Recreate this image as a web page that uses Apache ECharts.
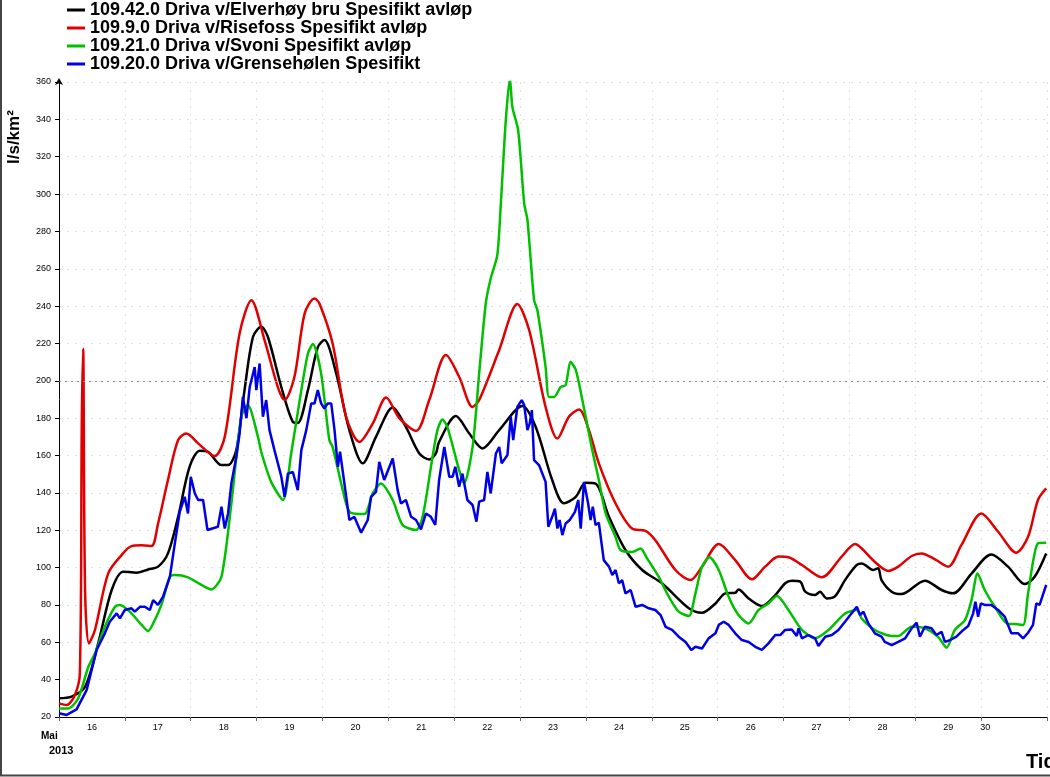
<!DOCTYPE html>
<html>
<head>
<meta charset="utf-8">
<script src="https://cdn.jsdelivr.net/npm/echarts@6/dist/echarts.min.js"></script>
<style>
html,body{margin:0;padding:0;background:#fff;}
#chart{width:1050px;height:777px;}
</style>
</head>
<body>
<div id="chart"></div>
<script>
// x = hours since 16 May 2013 00:00, y = l/s/km2
const seriesNames = [
  '109.42.0 Driva v/Elverhøy bru Spesifikt avløp',
  '109.9.0 Driva v/Risefoss Spesifikt avløp',
  '109.21.0 Driva v/Svoni Spesifikt avløp',
  '109.20.0 Driva v/Grensehølen Spesifikt'
];
const dayLabels = ['16','17','18','19','20','21','22','23','24','25','26','27','28','29','30'];
const yTicks = {min: 20, max: 360, step: 20};

const elverhoy = [
[0,30],[4.6,30.9],[9.5,36.2],[14.3,59.6],[19.2,88],[23.4,97.8],[28.3,97.3],[32.5,99],[36.1,100.5],
[39.7,107.6],[43.4,127.2],[47.6,154],[51.3,162.6],[54.3,162],[59.2,154.9],[61.6,154.9],[64.6,162.9],
[67.6,195],[70.7,223.6],[73.7,228.9],[76.1,223.6],[81,196.7],[85.2,178],[87,177.4],[90.7,195],
[94.3,218],[96.7,221.8],[101,204],[105.8,173.6],[110.7,155.8],[115.5,170],[121.6,185.7],[126.4,175.3],
[131.3,161.1],[134.9,157.9],[137.3,161.1],[138.5,167.3],[144.6,181.1],[149.5,171.8],[154.3,163.8],
[160.4,173.6],[168.8,186.5],[173.7,175.3],[179.7,146.9],[184,134.4],[188.3,137.9],[191.9,145.4],
[195.5,145],[200.4,127.2],[206.4,109.4],[212.5,98.7],[219.7,91.6],[229.5,78.2],[234.3,75.8],
[239.2,80.8],[242.8,86.2],[246.4,86.5],[247.6,88.3],[251.3,83.4],[256.1,79.4],[261,85.3],[264.6,91.6],
[267,93],[270.1,92.5],[271.9,87.1],[275.5,85.3],[277.3,87.1],[279.7,83.5],[282.8,84.7],[286.4,93.3],
[290.7,101.4],[292.5,102.2],[296.7,98.7],[298.5,99.6],[299.7,93.3],[303.4,87.1],[307,85.8],
[315.5,93],[321.6,88],[325.8,86.2],[332.5,96.8],[339.7,107],[345.8,100.5],[351.9,91.2],[355.5,95.1],
[359.7,107.6]
];
const risefoss = [
[0,27.3],[2.8,26.4],[5.8,31.8],[7.6,43.4],[8.3,177],[8.8,217.2],[9.5,88],[10.9,59.4],[13.1,66.6],
[17.9,96.8],[22.8,106.7],[26.4,111.5],[30.1,111.9],[33.7,111.5],[36.1,123.6],[39.7,146.9],[43.4,168.3],
[46.4,171.8],[50.7,166.5],[56.7,159.7],[60.4,170],[65.8,225.3],[70.1,243.2],[74.9,221.8],[79.7,196.8],
[82.2,189.7],[85.8,202.2],[89.5,236],[93.1,244.1],[94.9,241.4],[99.7,220],[104.6,180.8],[109.5,167.3],
[114.3,177.1],[119.2,191.1],[124,180],[130.1,173.2],[134.9,189.7],[141,213.8],[145.8,202.2],
[150.7,186],[153.1,189.7],[160.4,216.5],[167,241.1],[171.3,227.2],[177.3,186],[181.6,169.1],
[185.8,180.8],[189.5,184.7],[193.1,173.6],[196.7,155.8],[202.8,134.3],[208.8,120.9],[213.7,119.7],
[217.3,114.7],[224.6,98.7],[230.1,93.3],[234.3,100.5],[240.4,112.6],[246.4,104],[252.5,93.7],
[257.3,100.5],[262.2,105.9],[265.8,105.5],[270.7,101.4],[277.9,94.8],[285.2,105.9],[290.1,112.6],
[292.5,110.2],[297.3,103],[302.2,98.2],[305.8,100.5],[310.7,106.2],[314.3,107.6],[319.2,104.4],
[324,100.5],[328.8,112],[336.1,129],[342.2,119.2],[348.8,108],[353.1,116.5],[356.7,136.2],[359.7,142.4]
];
const svoni = [
[0,24.6],[3.4,24.6],[7,30],[10.7,46.9],[13.1,54],[16.7,68.3],[20.4,79],[22.2,80],[25.8,76.4],
[30.1,69.3],[32.5,66],[34.3,70.1],[37.3,80],[40.4,95.1],[42.2,96],[47,94.8],[51.9,90.7],[55.5,88.3],
[59.2,95.1],[62.8,134.3],[66.4,180.8],[68.8,187],[72.5,170],[73.7,161.9],[77.3,145.9],[81.6,136.2],
[84.6,161.1],[88.3,195],[90.7,214.6],[92.5,219.7],[95.5,204],[98.5,168.3],[99.7,164.6],[104.6,134.3],
[106.4,129.3],[111.3,128.7],[114.3,139.7],[117.3,145],[121.6,136.2],[125.2,122.8],[130.1,120.1],
[132.5,127.2],[136.1,159.2],[137.9,173.6],[139.7,179.3],[141.5,175.3],[145.8,152.2],[147.6,145],
[150.7,164.6],[153.1,204],[155.5,241.4],[157.3,254.8],[159.7,267.3],[161,295],[162.8,339.6],
[164.3,361.9],[165.2,346.6],[167.3,334.2],[169.5,295],[170.7,286.1],[173.1,243.2],[174.3,237.9],
[177.3,207.5],[178.5,191.4],[180.4,191.4],[182.8,196.7],[184.6,197.7],[186.4,210.2],[188.3,205.8],
[190.7,189.7],[194.3,163],[196.7,146.9],[199.2,129],[202.8,116.4],[204.6,109.4],[208.8,108.4],
[211.9,110.2],[214.3,104.9],[218.5,95.1],[222.2,84.4],[225.8,76.4],[229.5,74.1],[231.9,86.2],
[234.3,100.5],[237,105.5],[240.4,98.7],[244,84.4],[247.6,74.6],[251.3,70.1],[254.9,77.3],[258.5,80.8],
[261.6,84.8],[265.8,77.3],[270.7,66.6],[275.5,62.1],[280.4,66.6],[286.4,75.4],[290.7,77.3],
[292.5,72.7],[297.3,66.6],[303.4,63.4],[305.8,63.4],[310.7,68.3],[315.5,67.5],[320.4,62.8],
[323.4,57.1],[326.4,66.6],[330.1,71.9],[332.5,82.6],[334.7,96.8],[337.3,88],[341,79],[345.8,69.8],
[348.3,69.8],[351.3,69.3],[353.1,86.2],[356.7,113],[359.7,113.3]
];
const grensholen = [
[0,22],[2.8,21.1],[6.4,24.1],[10.1,34.5],[13.7,55.9],[16.7,64.8],[18.5,71],[21,75.5],[22.2,72.8],
[24,77.3],[26.4,78.2],[27.6,76.4],[29.5,79],[31.3,79],[33.1,77.3],[34.3,82.6],[36.1,80],[37.9,84.4],
[40.4,95.1],[42.2,112.8],[44,129.8],[45.8,137.9],[47,129],[48,148.6],[49.5,139.7],[50.7,136.2],
[52.5,136.2],[53.1,137],[54.1,120.1],[57.9,121.9],[59.2,132.6],[60.4,120.9],[61.6,129],[62.8,145],
[64.6,159.2],[65.8,171.8],[67,191.4],[68.3,180],[69.5,196.7],[71.3,207.4],[71.9,195],[73.1,209.3],
[74.3,180.8],[75.5,189.7],[76.7,173.6],[78.5,162.9],[80.4,152.2],[81,148.6],[82.2,137.9],[83.4,150.3],
[85.2,151.2],[87,141.5],[88.3,162.9],[90.1,173.6],[91.9,187.9],[93.1,187.9],[94.3,195],[95.5,187.9],
[96.7,185.2],[97.9,187.9],[99.2,187.9],[100.4,173.6],[101.6,154],[102.4,162],[104,145],[105.8,125.5],
[107.6,127.2],[110.1,118.7],[112.5,125.5],[113.7,137.9],[115.5,140.6],[116.7,156.6],[118.5,146.9],
[121.6,158.4],[123.4,141.5],[124.6,134.3],[126.4,136.2],[128.3,127.2],[130.1,125.5],[131.9,120.5],
[133.7,129],[135.5,127.2],[137.1,122.8],[138.5,146.9],[140.4,164.6],[142.2,148.6],[143.4,148.6],
[144.4,154],[145.8,143.3],[147,150.3],[148.8,136.2],[150.7,133.5],[152.1,124.6],[153.1,135.3],
[154.9,136.2],[156.1,151.2],[157.3,139.7],[159.2,161.1],[160.4,164.6],[161.3,155.8],[163.4,160.3],
[164.6,180.8],[165.5,168.3],[167,186],[168.6,189.7],[169.5,187],[170.7,173.6],[171.5,177.1],
[172.3,184.3],[173.1,157.6],[174.9,154.9],[177.3,145.9],[178.3,121.9],[179.7,127.2],[180.7,131.6],
[181.6,120.9],[182.4,125.5],[183.4,117.4],[184.6,123.6],[186.1,125.5],[188,129.8],[189.2,136.2],
[190.1,120.9],[191.3,145.9],[192.8,134.3],[193.7,125.5],[194.5,132.6],[195.5,122.8],[196.7,124],
[198.5,104],[200.4,100.5],[201.6,96],[202.8,98.7],[204,91.6],[205.2,93.3],[206.4,86.2],[208.3,88],
[210.1,79],[212.5,80],[214.9,78.2],[217.3,77.3],[219.2,74.6],[221,68.3],[223.4,66.6],[225.8,63],
[228.3,60.2],[230.4,55.9],[231.9,57.6],[234.3,56.7],[236.7,62.1],[239.2,64.8],[240.4,69.3],[242.2,71],
[244,69.3],[246.4,64.8],[248.8,61.2],[251.3,60.2],[253.7,57.6],[256.1,55.9],[258.5,59.4],[261,63.9],
[262.8,63.9],[264.6,66.6],[267,66.9],[268.8,63.4],[269.5,67.5],[270.7,62.1],[273.1,63.9],[275.5,62.1],
[276.7,58],[279.2,63],[281.6,63.9],[284,66.6],[286.4,71],[288.8,75.5],[290.7,79],[291.9,74.6],
[293.1,76.4],[294.9,70.1],[297.3,64.8],[299.7,63],[300.9,60.2],[303.4,58.5],[305.8,60.2],[308.3,62.1],
[310.7,67.5],[312.5,70.5],[313.7,63],[315.5,68.3],[317.9,67.5],[319.7,63.9],[321.6,65.6],[322.8,60.2],
[324.6,61.2],[327,63],[329.5,66.6],[331.3,68.7],[333.1,75.5],[333.9,81.7],[334.9,73.7],[335.9,80.8],
[337.3,80],[339.7,80],[342.2,77.3],[344.6,73.7],[347,64.8],[349.5,64.8],[351.3,62.1],[353.1,65.1],
[354.9,69.3],[356.1,80.8],[357.3,80],[359.7,90.7]
];

const colors = ['#000000', '#e00000', '#00c000', '#0000e6'];
const datasets = [elverhoy, risefoss, svoni, grensholen];
const smooths = [0.3, 0.3, 0.25, false];

const chart = echarts.init(document.getElementById('chart'));
const FONT = '"Liberation Sans", Arial, Helvetica, sans-serif';

const series = datasets.map((d, i) => ({
  name: seriesNames[i],
  type: 'line',
  data: d,
  symbol: 'none',
  smooth: smooths[i],
  lineStyle: {color: colors[i], width: 2.5},
  itemStyle: {color: colors[i]},
  z: 2 + i,
  animation: false
}));
series[0].markLine = {
  silent: true, symbol: 'none', label: {show: false},
  lineStyle: {color: '#888', type: [2, 4], width: 1},
  data: [{yAxis: 200}]
};

chart.setOption({
  backgroundColor: '#fff',
  animation: false,
  textStyle: {fontFamily: FONT},
  legend: {
    orient: 'vertical', left: 67, top: 1, padding: 0,
    icon: 'rect', itemWidth: 18, itemHeight: 3, itemGap: 0,
    textStyle: {fontFamily: FONT, fontWeight: 'bold', fontSize: 18, color: '#000', lineHeight: 18},
    data: seriesNames
  },
  grid: {left: 59, right: 1, top: 82, bottom: 60, containLabel: false},
  xAxis: {
    type: 'value', min: 0, max: 360, interval: 24,
    axisLine: {lineStyle: {color: '#000', width: 1}},
    axisTick: {show: true, length: 4, lineStyle: {color: '#666'}},
    splitLine: {show: true, lineStyle: {color: '#e2e2e2', type: [2, 6], width: 1}},
    axisLabel: {
      margin: 6, fontSize: 9, color: '#000', fontFamily: FONT,
      formatter: function (v) {
        const idx = Math.round(v / 24);
        if (idx < dayLabels.length - 1) return '{n|' + dayLabels[idx] + '}';
        if (idx === dayLabels.length - 1) return '{e|' + dayLabels[idx] + '}';
        return '';
      },
      rich: {
        n: {padding: [0, 0, 0, 66], fontSize: 9, fontFamily: FONT, color: '#000'},
        e: {padding: [0, 0, 0, 8], fontSize: 9, fontFamily: FONT, color: '#000'}
      }
    }
  },
  yAxis: {
    type: 'value', min: yTicks.min, max: yTicks.max, interval: yTicks.step,
    axisLine: {show: true, lineStyle: {color: '#000', width: 1}, symbol: ['none', 'arrow'], symbolSize: [6, 7], symbolOffset: [0, 4]},
    axisTick: {show: true, length: 4, lineStyle: {color: '#000'}},
    splitLine: {show: true, lineStyle: {color: '#e2e2e2', type: [2, 6], width: 1}},
    axisLabel: {margin: 8, fontSize: 9, color: '#000', fontFamily: FONT}
  },
  graphic: [
    {type: 'text', rotation: Math.PI / 2, style: {text: 'l/s/km²', font: 'bold 17px ' + FONT, fill: '#000'}, x: 6, y: 164, origin: [0, 0]},
    {type: 'text', x: 41, y: 731, style: {text: 'Mai', font: 'bold 10px ' + FONT, fill: '#000'}},
    {type: 'text', x: 49, y: 745, style: {text: '2013', font: 'bold 11px ' + FONT, fill: '#000'}},
    {type: 'text', x: 1026, y: 752, style: {text: 'Tid', font: 'bold 20px ' + FONT, fill: '#000'}},
    {type: 'line', shape: {x1: 1, y1: 0, x2: 1, y2: 776}, style: {stroke: '#444', lineWidth: 2}},
    {type: 'line', shape: {x1: 0, y1: 775.5, x2: 1050, y2: 775.5}, style: {stroke: '#444', lineWidth: 2}}
  ],
  series: series
});
</script>
</body>
</html>
